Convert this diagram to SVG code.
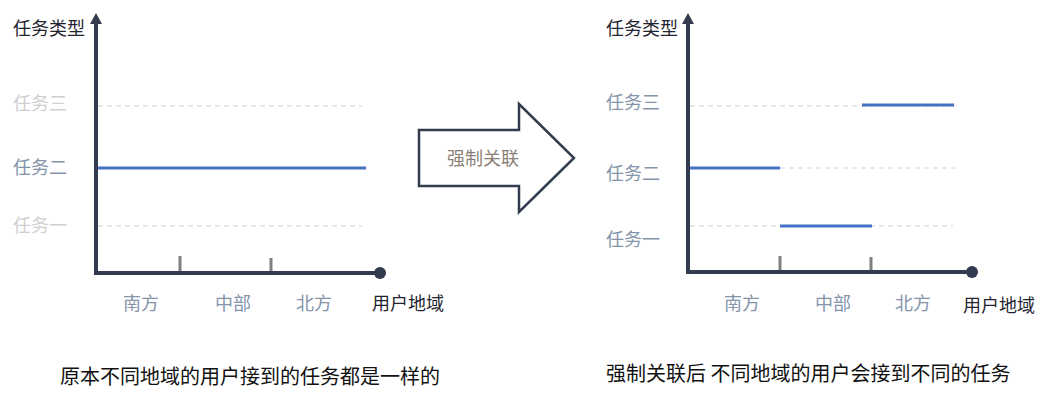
<svg xmlns="http://www.w3.org/2000/svg" width="1057" height="402" viewBox="0 0 1057 402">
<style>
text{font-family:"Noto Sans CJK SC","Liberation Sans",sans-serif;}
.ax{stroke:#323c4e;stroke-width:4;fill:none}
.tk{stroke:#7f7f7f;stroke-width:3}
.ds{stroke:#d0d0d0;stroke-width:1;stroke-dasharray:5,4}
.bl{stroke:#4472c4;stroke-width:3}
.lb{font-size:18px;fill:#8494ab}
.lf{font-size:18px;fill:#cfcfcf}
.tt{font-size:18px;fill:#1f2430}
.cap{font-size:20px;fill:#111}
</style>
<g id="left-chart">
<line class="ds" x1="98" y1="106" x2="362" y2="106"/>
<line class="ds" x1="98" y1="226" x2="362" y2="226"/>
<line class="bl" x1="98" y1="168" x2="366" y2="168"/>
<line class="tk" x1="180" y1="256" x2="180" y2="272"/>
<line class="tk" x1="271" y1="258" x2="271" y2="272"/>
<path class="ax" d="M96 22V273H380"/>
<polygon points="96,13 90,24 102,24" fill="#323c4e"/>
<circle cx="380" cy="273" r="6" fill="#323c4e"/>
<text class="tt" x="13" y="35">任务类型</text>
<text class="lf" x="13" y="110">任务三</text>
<text class="lb" x="13" y="174">任务二</text>
<text class="lf" x="13" y="232">任务一</text>
<text class="lb" x="141" y="310" text-anchor="middle">南方</text>
<text class="lb" x="233" y="310" text-anchor="middle">中部</text>
<text class="lb" x="314" y="310" text-anchor="middle">北方</text>
<text class="tt" x="372" y="310">用户地域</text>
</g>
<g id="arrow">
<polygon points="419,130 519,130 519,104 574,158 519,212 519,186 419,186" fill="#fff" stroke="#323c4e" stroke-width="2.5"/>
<text x="483" y="165" font-size="18" fill="#8a7f76" text-anchor="middle">强制关联</text>
</g>
<g id="right-chart">
<line class="ds" x1="690" y1="106" x2="955" y2="106"/>
<line class="ds" x1="690" y1="168" x2="955" y2="168"/>
<line class="ds" x1="690" y1="226" x2="953" y2="226"/>
<line class="bl" x1="862" y1="105" x2="954" y2="105"/>
<line class="bl" x1="690" y1="168" x2="780" y2="168"/>
<line class="bl" x1="780" y1="226" x2="872" y2="226"/>
<line class="tk" x1="780" y1="256" x2="780" y2="272"/>
<line class="tk" x1="871" y1="257" x2="871" y2="272"/>
<path class="ax" d="M688 22V272H972"/>
<polygon points="688,13 682,24 694,24" fill="#323c4e"/>
<circle cx="972" cy="272" r="6" fill="#323c4e"/>
<text class="tt" x="606" y="35">任务类型</text>
<text class="lb" x="606" y="109">任务三</text>
<text class="lb" x="606" y="180">任务二</text>
<text class="lb" x="606" y="246">任务一</text>
<text class="lb" x="742" y="310" text-anchor="middle">南方</text>
<text class="lb" x="833" y="310" text-anchor="middle">中部</text>
<text class="lb" x="913" y="310" text-anchor="middle">北方</text>
<text class="tt" x="963" y="312">用户地域</text>
</g>
<text class="cap" x="60" y="384">原本不同地域的用户接到的任务都是一样的</text>
<text class="cap" x="606" y="381">强制关联后 不同地域的用户会接到不同的任务</text>
</svg>
